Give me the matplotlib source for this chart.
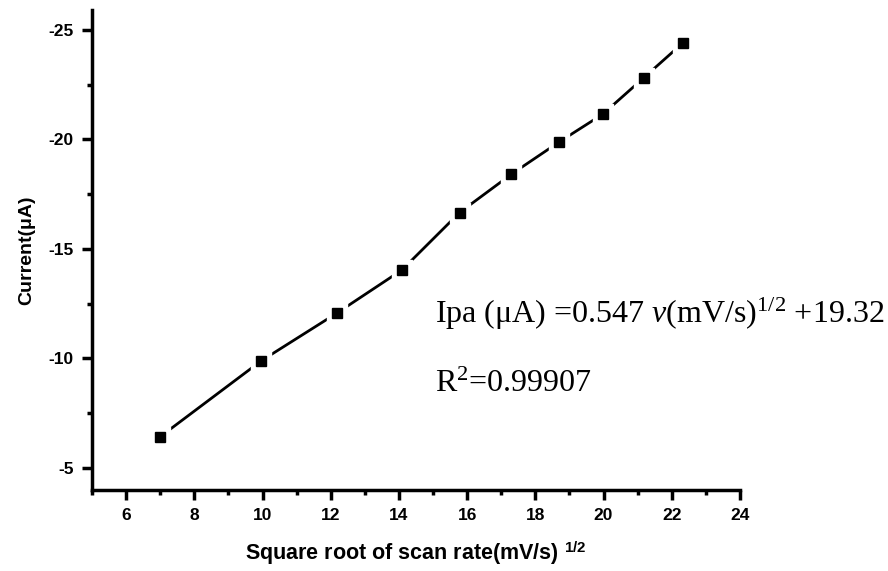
import matplotlib.pyplot as plt
from matplotlib.ticker import MultipleLocator

# square root of scan rate (mV/s)^1/2 and anodic peak current (uA)
sqrt_rate = [7.0, 9.96, 12.19, 14.09, 15.78, 17.30, 18.69, 19.98, 21.18, 22.32]
current = [-6.43, -9.89, -12.08, -14.04, -16.66, -18.41, -19.87, -21.15, -22.81, -24.39]

x_ticks = [6, 8, 10, 12, 14, 16, 18, 20, 22, 24]
y_ticks = [-25, -20, -15, -10, -5]

plt.rcParams["font.family"] = ["Liberation Sans", "DejaVu Sans"]
plt.rcParams["axes.unicode_minus"] = False
plt.rcParams["mathtext.fontset"] = "custom"
plt.rcParams["mathtext.rm"] = "Liberation Serif"
plt.rcParams["mathtext.it"] = "Liberation Serif:italic"
plt.rcParams["mathtext.bf"] = "Liberation Sans:bold"

fig = plt.figure(figsize=(8.88, 5.71), dpi=100)
ax = fig.add_axes([0.1036, 0.1419, 0.7297, 0.8406])

# line with gaps around the markers: white squares sit under the black ones
ax.plot(sqrt_rate, current, color="black", lw=2.0, zorder=2)
ax.plot(sqrt_rate, current, ls="none", marker="s", ms=14, color="white",
        mec="white", zorder=3)
ax.plot(sqrt_rate, current, ls="none", marker="s", ms=7.5, color="black",
        mec="black", zorder=4)

ax.set_xlim(5, 24)
ax.set_ylim(-4, -25.9)
ax.set_xticks(x_ticks)
ax.set_yticks(y_ticks)
ax.xaxis.set_minor_locator(MultipleLocator(1))
ax.yaxis.set_minor_locator(MultipleLocator(2.5))

for s in ["top", "right"]:
    ax.spines[s].set_visible(False)
for s in ["left", "bottom"]:
    ax.spines[s].set_linewidth(2.5)

ax.tick_params(which="major", direction="out", length=7, width=2.5,
               labelsize=12.5, pad=6)
ax.tick_params(which="minor", direction="out", length=3.5, width=2.5)
for lab in ax.get_xticklabels() + ax.get_yticklabels():
    lab.set_fontweight("bold")

ax.set_xlabel(r"Square root of scan rate(mV/s) $^{\mathbf{1/2}}$",
              fontsize=15.5, fontweight="bold", labelpad=12)
ax.set_ylabel("Current(μA)", fontsize=14, fontweight="bold", labelpad=10)

fig.text(0.49, 0.4343, r"Ipa (μA) =0.547 $\mathit{v}$(mV/s)$^{\mathrm{1/2}}$ +19.32",
         family="Liberation Serif", fontsize=23, va="baseline", ha="left")
fig.text(0.49, 0.3135, r"R$^{\mathrm{2}}$=0.99907",
         family="Liberation Serif", fontsize=23, va="baseline", ha="left")

fig.savefig("out.png", dpi=100)
